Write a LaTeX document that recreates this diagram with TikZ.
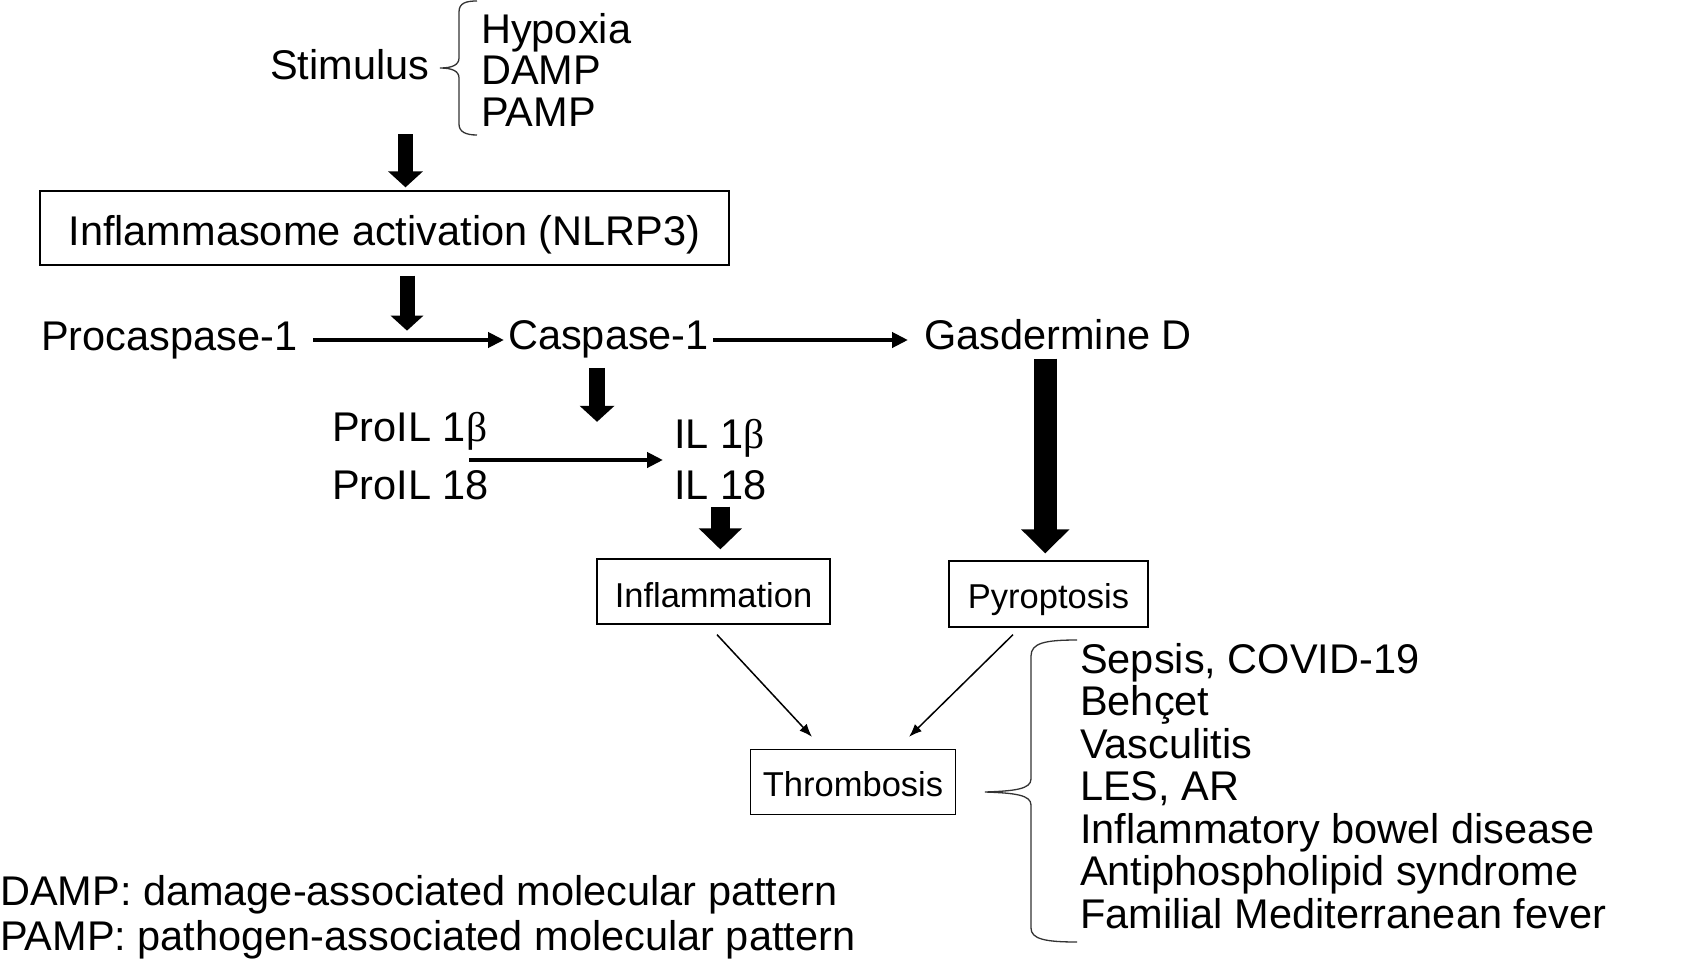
\documentclass[tikz,border=0pt]{standalone}
\usepackage{fontspec}
\setmainfont{Liberation Sans}
\newfontfamily\betafont{Liberation Serif}
\usetikzlibrary{arrows.meta}

\begin{document}
\begin{tikzpicture}[x=1pt,y=-1pt,
    txt/.style={font=\fontsize{41.5}{43}\selectfont,inner sep=0pt,anchor=base west},
    box/.style={draw,line width=1.3pt,font=\fontsize{34.5}{36}\selectfont,text height=29pt,text depth=0pt,inner sep=0pt},
    fatarrow/.style n args={3}{line width=#1pt,-{Triangle[length=#3pt,width=#2pt]}},
    flow/.style={line width=4.5pt,-{Triangle[length=16pt,width=15pt]}},
    link/.style={line width=1.5pt,-{Latex[length=13pt,width=10pt]}},
    brace/.style={line width=1.3pt,draw=black!80}]
    \useasboundingbox (0,0) rectangle (1708,961);
    % stimulus and its list
    \node[txt] (stim) at (270,79) {Stimulus};
    \foreach \s [count=\i from 0] in {Hypoxia,DAMP,PAMP}
        \node[txt] (s\i) at (481,{43+41.5*\i}) {\s};
    \draw[brace] (477,1) .. controls (466,1) and (459,3) .. (459,12) -- (459,58) .. controls (459,65) and (452,68) .. (440,68) .. controls (452,68) and (459,71) .. (459,78) -- (459,124) .. controls (459,132) and (466,135) .. (477,135);
    \node[box,minimum width=689pt,minimum height=74pt,text height=34pt,font=\fontsize{41.5}{43}\selectfont] (nlrp) at (384.5,228) {Inflammasome activation (NLRP3)};
    % caspase row
    \node[txt] (pro) at (41,350) {Procaspase-1};
    \node[txt] (casp) at (508,349) {Caspase-1};
    \node[txt] (gas) at (924,349) {Gasdermine D};
    \node[txt] (pil1) at (332,441) {ProIL 1{\betafont β}};
    \node[txt] (pil18) at (332,499) {ProIL 18};
    \node[txt] (il1) at (674,448) {IL 1{\betafont β}};
    \node[txt] (il18) at (674,499) {IL 18};
    % outcomes
    \node[box,minimum width=233pt,minimum height=65pt,text height=31pt] (infl) at (713.5,591.5) {Inflammation};
    \node[box,minimum width=199pt,minimum height=66pt,text height=28pt] (pyro) at (1048.5,594) {Pyroptosis};
    \node[box,minimum width=205pt,minimum height=65pt] (thr) at (853,782) {Thrombosis};
    \foreach \d [count=\i from 0] in {{Sepsis, COVID-19},Behçet,Vasculitis,{LES, AR},Inflammatory bowel disease,Antiphospholipid syndrome,Familial Mediterranean fever}
        \node[txt] (d\i) at (1080,{673+42.5*\i}) {\d};
    \draw[brace] (1077,640) .. controls (1045,640) and (1031,643) .. (1031,656) -- (1031,779) .. controls (1031,789) and (1015,791) .. (985,792) .. controls (1015,793) and (1031,795) .. (1031,805) -- (1031,928) .. controls (1031,939) and (1045,942) .. (1077,942);
    \node[txt] (fn1) at (0,905) {DAMP: damage-associated molecular pattern};
    \node[txt] (fn2) at (0,950) {PAMP: pathogen-associated molecular pattern};
    % arrows
    \coordinate (a1) at (405.5,134);
    \draw[fatarrow={15}{34}{16},shorten >=3pt] (a1) -- (a1 |- nlrp.north);
    \draw[fatarrow={15}{32}{15}] ([shift={(22.5,10)}]nlrp.south) -- ([shift={(22.5,65)}]nlrp.south);
    \draw[fatarrow={16}{34}{16}] ([shift={(-11.5,10)}]casp.south) -- ++(0,54);
    \draw[fatarrow={19}{42}{21},shorten >=9pt] ([shift={(0,7)}]il18.south) -- (il18.south |- infl.north);
    \coordinate (g) at ([shift={(-12.7,9)}]gas.south);
    \draw[fatarrow={23}{47}{24},shorten >=7pt] (g) -- (g |- pyro.north);
    \draw[flow] ([shift={(16,-10)}]pro.base east) -- ([shift={(-4,-9)}]casp.base west);
    \draw[flow] ([shift={(4,-9)}]casp.base east) -- ([shift={(-16,-9)}]gas.base west);
    \coordinate (cut) at (469,460);
    \draw[flow,shorten >=11pt] (cut) -- (cut -| il1.west);
    \draw[link] ([shift={(3.5,10)}]infl.south) -- ([shift={(-41,-12)}]thr.north);
    \draw[link] ([shift={(-35.5,7)}]pyro.south) -- ([shift={(56,-12)}]thr.north);
\end{tikzpicture}
\end{document}
